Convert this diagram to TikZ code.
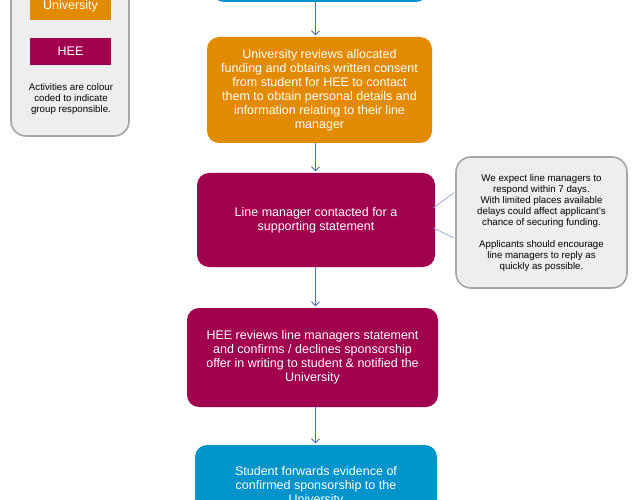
\documentclass[tikz,border=0pt]{standalone}
\usepackage{fontspec}
\setmainfont{Liberation Sans}
\usepackage{xcolor}
\usepackage{tikz}
\usetikzlibrary{arrows.meta,positioning,calc}

\definecolor{uniorange}{HTML}{E38B00}
\definecolor{heered}{HTML}{A1004F}
\definecolor{studblue}{HTML}{0094CA}
\definecolor{panelgray}{HTML}{EEEEEE}
\definecolor{edgegray}{HTML}{A6A6A6}
\definecolor{flowblue}{HTML}{4F74AE}
\definecolor{linkblue}{HTML}{7C9DCF}

\begin{document}
\begin{tikzpicture}[x=1pt, y=-1pt,
  stepbox/.style={rounded corners=12pt, inner sep=0pt, align=center, text=white, font=\fontsize{12.5}{14}\selectfont},
  keybox/.style={inner sep=0pt, minimum width=81pt, minimum height=27pt, text=white, font=\fontsize{12.5}{14}\selectfont},
  panel/.style={draw=edgegray, line width=1.6pt, fill=panelgray, rounded corners=15pt, inner sep=0pt},
  small/.style={align=center, font=\fontsize{9.7}{11}\selectfont},
  flow/.style={draw=flowblue, line width=0.8pt, shorten >=1.5pt, -{Straight Barb[length=4pt,width=8pt]}},
  link/.style={draw=linkblue, line width=0.6pt}]
  \useasboundingbox (0,0) rectangle (635,500);
  \clip (0,0) rectangle (635,500);

  % Legend
  \node[panel, minimum width=118pt, minimum height=176pt] (legend) at (70,48) {};
  \node[keybox, fill=uniorange] (keyuni) at (70.5,6.5) {University};
  \node[keybox, fill=heered] (keyhee) at (70.5,51.5) {HEE};
  \node[small] (keytext) at (71,98.5) {Activities are colour\\coded to indicate\\group responsible.};

  % Process steps
  \coordinate (axis) at (315.5,0);
  \node[stepbox, fill=studblue, minimum width=216pt, minimum height=60pt] (apply) at (320,-28) {};
  \node[stepbox, fill=uniorange, minimum width=225pt, minimum height=106pt] (funding) at (319.5,90)
    {University reviews allocated\\funding and obtains written consent\\from student for HEE to contact\\them to obtain personal details and\\information relating to their line\\manager};
  \node[stepbox, fill=heered, minimum width=238pt, minimum height=94pt] (contact) at (316,220)
    {Line manager contacted for a\\supporting statement};
  \node[stepbox, fill=heered, minimum width=251pt, minimum height=99pt] (decision) at (312.5,357.5)
    {HEE reviews line managers statement\\and confirms / declines sponsorship\\offer in writing to student \& notified the\\University};
  \node[stepbox, fill=studblue, minimum width=242pt, minimum height=82pt] (evidence) at (316,486)
    {Student forwards evidence of\\confirmed sponsorship to the\\University};

  % Arrows
  \draw[flow] (apply.south -| axis) -- (funding.north -| axis);
  \draw[flow] (funding.south -| axis) -- (contact.north -| axis);
  \draw[flow] (contact.south -| axis) -- (decision.north -| axis);
  \draw[flow] (decision.south -| axis) -- (evidence.north -| axis);

  % Note on line manager reply
  \node[panel, small, minimum width=171pt, minimum height=131pt] (note) at (541.5,222.5)
    {We expect line managers to\\respond within 7 days.\\With limited places available\\delays could affect applicant's\\chance of securing funding.\\[11pt]Applicants should encourage\\line managers to reply as\\quickly as possible.};
  \draw[link] ($(contact.east)+(-2,-12)$) -- ($(note.west)+(-1,-30)$);
  \draw[link] ($(contact.east)+(-2,8)$) -- ($(note.west)+(-1,15.5)$);
\end{tikzpicture}
\end{document}
